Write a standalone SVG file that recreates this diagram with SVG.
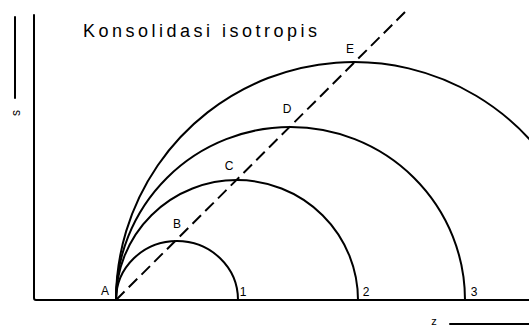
<svg xmlns="http://www.w3.org/2000/svg" width="529" height="329" viewBox="0 0 529 329">
  <style>
    .ln { fill: none; stroke: #000; stroke-width: 2; stroke-linecap: round; stroke-linejoin: round; }
    .dash { fill: none; stroke: #000; stroke-width: 2; stroke-dasharray: 12 6; }
    .lbl { font-family: "Liberation Sans", Arial, sans-serif; font-size: 12px; fill: #000; text-anchor: middle; }
    .title { font-family: "Liberation Sans", Arial, sans-serif; font-size: 18px; fill: #000; }
  </style>
  <rect width="529" height="329" fill="#fff"/>
  <text class="title" x="83" y="37" textLength="234" lengthAdjust="spacing">Konsolidasi isotropis</text>
  <g id="axes">
    <path class="ln" d="M34,15 L34,298 Q34,300 36,300 L529,300"/>
    <path class="ln" d="M15,17 L15,98"/>
    <text class="lbl" transform="translate(16,113) rotate(-90)" dy="4">s</text>
    <path class="ln" d="M450,324 L529,324"/>
    <text class="lbl" x="434" y="325" style="font-size:11px">z</text>
  </g>
  <g id="connectors">
    <path class="dash" d="M116,300 L409,8"/>
  </g>
  <g id="circle1">
    <path class="ln" d="M116,300 A61,59 0 0 1 238,300"/>
    <text class="lbl" x="177" y="228">B</text>
    <text class="lbl" x="243" y="296">1</text>
  </g>
  <g id="circle2">
    <path class="ln" d="M116,300 A121,120 0 0 1 358,300"/>
    <text class="lbl" x="229" y="170">C</text>
    <text class="lbl" x="366" y="296">2</text>
  </g>
  <g id="circle3">
    <path class="ln" d="M116,300 A174.5,173 0 0 1 465,300"/>
    <text class="lbl" x="287" y="113">D</text>
    <text class="lbl" x="474" y="296">3</text>
  </g>
  <g id="circle4">
    <path class="ln" d="M116,300 A238,238 0 0 1 530,139.8"/>
    <text class="lbl" x="350" y="53">E</text>
  </g>
  <g id="pointA">
    <text class="lbl" x="105" y="295">A</text>
  </g>
</svg>
